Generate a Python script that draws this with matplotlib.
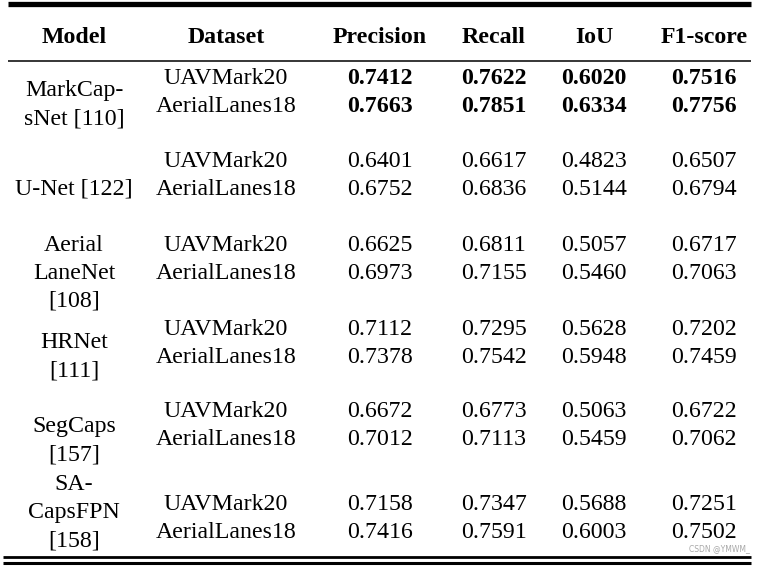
import matplotlib.pyplot as plt

W, H = 757, 566

headers = ['Model', 'Dataset', 'Precision', 'Recall', 'IoU', 'F1-score']
models = ['MarkCap-\nsNet [110]', 'U-Net [122]', 'Aerial\nLaneNet\n[108]',
          'HRNet\n[111]', 'SegCaps\n[157]', 'SA-\nCapsFPN\n[158]']
datasets = ['UAVMark20', 'AerialLanes18']
precision = [[0.7412, 0.7663], [0.6401, 0.6752], [0.6625, 0.6973],
             [0.7112, 0.7378], [0.6672, 0.7012], [0.7158, 0.7416]]
recall = [[0.7622, 0.7851], [0.6617, 0.6836], [0.6811, 0.7155],
          [0.7295, 0.7542], [0.6773, 0.7113], [0.7347, 0.7591]]
iou = [[0.6020, 0.6334], [0.4823, 0.5144], [0.5057, 0.5460],
       [0.5628, 0.5948], [0.5063, 0.5459], [0.5688, 0.6003]]
f1 = [[0.7516, 0.7756], [0.6507, 0.6794], [0.6717, 0.7063],
      [0.7202, 0.7459], [0.6722, 0.7062], [0.7251, 0.7502]]
best_model = 0  # row printed in bold

# layout (pixels)
col_x = [74, 226, 380, 494, 594, 704]
group_y = [84, 167, 251, 335, 417, 510]   # baseline of first dataset row
model_y = [96, 195, 251, 348, 432, 490]   # baseline of first model line
row_h = 28
FONT = 'Liberation Serif'
FS = 17.2

fig = plt.figure(figsize=(W / 100, H / 100), dpi=100)
ax = fig.add_axes([0, 0, 1, 1])
ax.set_xlim(0, W)
ax.set_ylim(H, 0)
ax.axis('off')

def txt(x, y, s, bold=False):
    ax.text(x, y, s, ha='center', va='baseline', family=FONT, fontsize=FS,
            fontweight='bold' if bold else 'normal', color='black')

# rules
ax.plot([8, 751], [3.5, 3.5], color='black', lw=3.8, solid_capstyle='butt')
ax.plot([8, 751], [61, 61], color='black', lw=1.1, solid_capstyle='butt')
ax.plot([3, 751], [557, 557], color='black', lw=2.0, solid_capstyle='butt')
ax.plot([3, 751], [562.5, 562.5], color='black', lw=2.2, solid_capstyle='butt')

for x, h in zip(col_x, headers):
    txt(x, 43, h, bold=True)

for g, name in enumerate(models):
    for k, line in enumerate(name.split('\n')):
        txt(col_x[0], model_y[g] + k * row_h, line)
    for r, ds in enumerate(datasets):
        y = group_y[g] + r * row_h
        txt(col_x[1], y, ds)
        for c, vals in enumerate([precision, recall, iou, f1]):
            txt(col_x[2 + c], y, '%.4f' % vals[g][r], bold=(g == best_model))

ax.text(750, 551, 'CSDN @YMWM_', ha='right', va='baseline', fontsize=5.5,
        family='DejaVu Sans', color='#a8a8a8')

fig.savefig('out.png', dpi=100)
